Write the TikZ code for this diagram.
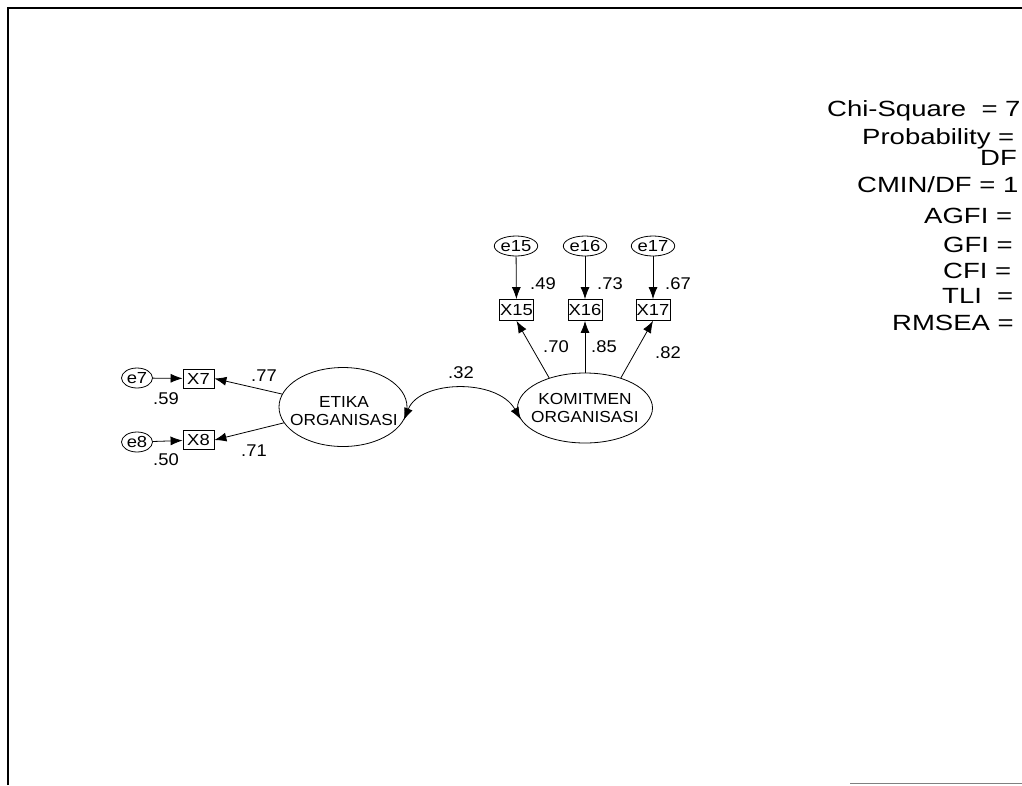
\documentclass[tikz,border=0pt]{standalone}
\usepackage{fontspec}
\setmainfont{Liberation Sans}
\newfontfamily\widefont[FakeStretch=1.25]{Liberation Sans}
\newfontfamily\midfont[FakeStretch=1.08]{Liberation Sans}
\newfontfamily\boxfont[FakeStretch=1.15]{Liberation Sans}
\usetikzlibrary{shapes.geometric,arrows.meta}
\begin{document}
\begin{tikzpicture}[x=1pt,y=-1pt,
  every node/.style={inner sep=0pt},
  lat/.style={draw,ellipse,line width=0.8pt},
  lattext/.style={align=center,font=\midfont\fontsize{16}{18.5}\selectfont},
  err/.style={draw,ellipse,line width=0.8pt,minimum height=20pt,font=\boxfont\fontsize{16}{18}\selectfont},
  obs/.style={draw,rectangle,line width=0.8pt,minimum height=20pt,font=\boxfont\fontsize{16}{18}\selectfont},
  lbl/.style={font=\midfont\fontsize{17}{20}\selectfont},
  stat/.style={anchor=base west,font=\widefont\fontsize{22}{26}\selectfont},
  arr/.style={line width=0.8pt,-{Latex[length=12pt,width=9pt]}},
  arrb/.style={line width=0.8pt,{Latex[length=12pt,width=9pt]}-{Latex[length=12pt,width=9pt]}}]
\useasboundingbox (0,0) rectangle (1022,785);
% frame
\draw[line width=1.6pt] (8,785) -- (8,8) -- (1022,8);
\draw[gray,line width=1pt] (850,783.5) -- (1022,783.5);

% etika side
\node[err,minimum width=31pt] (e7) at (137,378) {e7};
\node[obs,minimum width=31pt,minimum height=19pt] (X7) at (198.5,378.5) {X7};
\node[err,minimum width=31pt] (e8) at (137,442) {e8};
\node[obs,minimum width=31pt,minimum height=19pt] (X8) at (198.5,440) {X8};
\node[lat,minimum width=128pt,minimum height=79pt] (etika) at (343,407) {};
\node[lattext] (etikaT) at (344,411) {ETIKA\\ORGANISASI};

% komitmen side
\node[lat,minimum width=135pt,minimum height=70pt] (komit) at (585,408) {};
\node[lattext] (komitT) at (585,408) {KOMITMEN\\ORGANISASI};
\node[err,minimum width=36pt] (e15) at (516,246) {e15};
\node[err,minimum width=36pt] (e16) at (585,246) {e16};
\node[err,minimum width=36pt] (e17) at (653,246) {e17};
\node[obs,minimum width=34pt,minimum height=21pt] (X15) at (516.5,310) {X15};
\node[obs,minimum width=34pt,minimum height=21pt] (X16) at (585,310) {X16};
\node[obs,minimum width=34pt,minimum height=21pt] (X17) at (653,310) {X17};

% connectors
\draw[arr] (e7) -- (X7);
\draw[arr] (e8) -- (X8);
\draw[arr] (etika.168) -- (X7.east);
\draw[arr] (etika.195) -- (X8.east);
\draw[arr] (e15) -- (X15);
\draw[arr] (e16) -- (X16);
\draw[arr] (e17) -- (X17);
\draw[arr] (komit.140) -- (X15.south);
\draw[arr] (komit.north) -- (X16.south);
\draw[arr] (komit.40) -- (X17.south);
\draw[arrb] (etika.-12) .. controls (420,380) and (497,378) .. (komit.190);

% labels
\node[lbl] (l59) at (166,399) {.59};
\node[lbl] (l50) at (166,460) {.50};
\node[lbl] (l77) at (264,376) {.77};
\node[lbl] (l71) at (254,451) {.71};
\node[lbl] (l32) at (461,373) {.32};
\node[lbl] (l49) at (543,284) {.49};
\node[lbl] (l73) at (610,284) {.73};
\node[lbl] (l67) at (678,284) {.67};
\node[lbl] (l70) at (556,347) {.70};
\node[lbl] (l85) at (604,347) {.85};
\node[lbl] (l82) at (668,353) {.82};

% fit statistics
\node[stat] (s1) at (827,116) {Chi-Square\ \ = 7};
\node[stat] (s2) at (862,144) {Probability =};
\node[stat] (s3) at (980,165) {DF};
\node[stat] (s4) at (857,192) {CMIN/DF = 1};
\node[stat] (s5) at (924,223) {AGFI =};
\node[stat] (s6) at (943,252) {GFI =};
\node[stat] (s7) at (943,278) {CFI =};
\node[stat] (s8) at (942,303) {TLI\ \ =};
\node[stat] (s9) at (892,330) {RMSEA =};
\end{tikzpicture}
\end{document}
